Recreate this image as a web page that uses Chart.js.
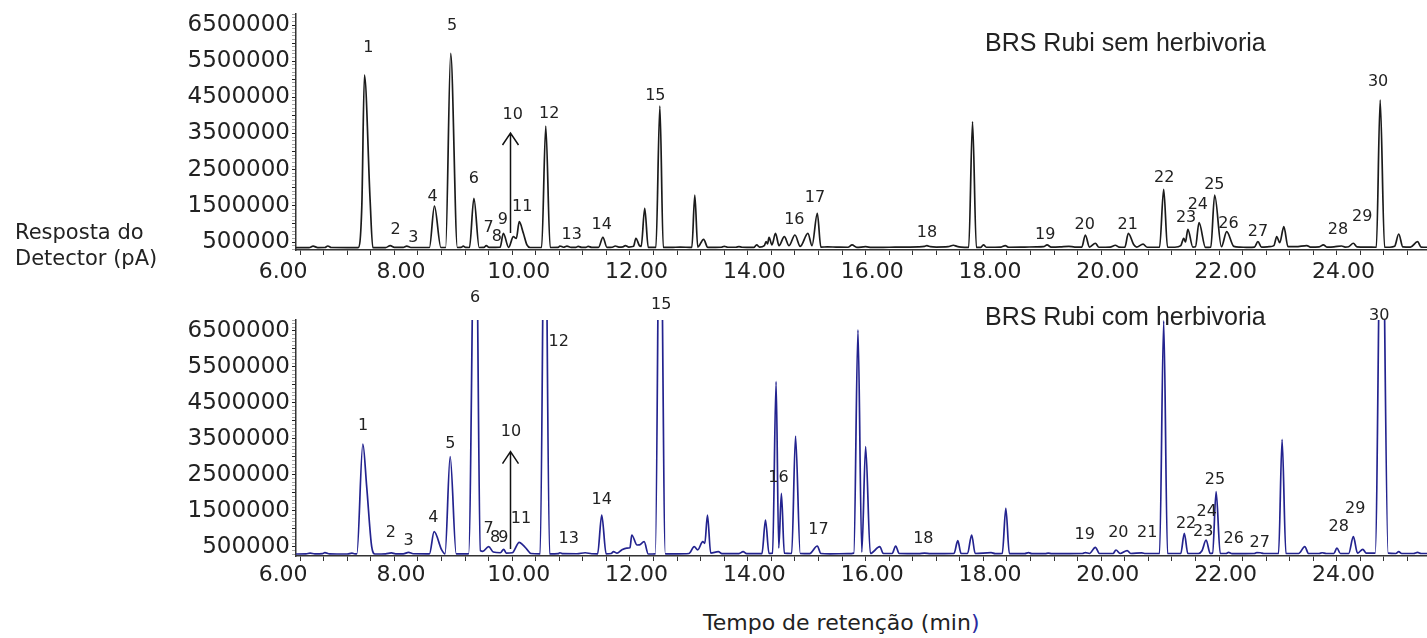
<!DOCTYPE html>
<html>
<head>
<meta charset="utf-8">
<script src="https://cdn.jsdelivr.net/npm/chart.js@4.4.1/dist/chart.umd.min.js"></script>
<style>
  body { margin: 0; background: #fff; width: 1427px; height: 638px; position: relative; overflow: hidden; font-family: "DejaVu Sans", sans-serif; color: #222; }
  canvas { position: absolute; left: 0; }
  #topChart { top: 0; }
  #botChart { top: 285px; }
  .lbl { position: absolute; white-space: nowrap; }
  .ttl { font-family: "Liberation Sans", Arial, sans-serif; font-size: 25px; line-height: 29px; }
</style>
</head>
<body>
<canvas id="topChart" width="1427" height="290"></canvas>
<canvas id="botChart" width="1427" height="315"></canvas>
<div class="lbl" style="left:15px; top:219px; font-size:21px; line-height:26px;">Resposta do<br>Detector (pA)</div>
<div class="lbl" style="left:703px; top:610px; font-size:22px;">Tempo de retenção (min<span style="color:#2a2aa0">)</span></div>
<div class="lbl ttl" style="left:985px; top:28px;">BRS Rubi sem herbivoria</div>
<div class="lbl ttl" style="left:985px; top:302px;">BRS Rubi com herbivoria</div>
<script>
// Chromatogram traces: [retention time (min), detector response (pA)]
const semHerbivoria = [
  [5.93, 345000], [6.15, 345000], [6.22, 385000], [6.30, 345000], [6.42, 348000], [6.47, 390000], [6.53, 348000], [6.80, 345000],
  [6.985, 345000], [7.047, 1476000], [7.092, 5118000], [7.188, 1661000], [7.234, 345000],
  [7.45, 345000], [7.53, 400000], [7.60, 350000], [7.75, 350000], [7.81, 385000], [7.88, 348000],
  [8.195, 348000], [8.28, 1495000], [8.39, 348000],
  [8.47, 348000], [8.556, 5717000], [8.67, 348000],
  [8.73, 350000], [8.77, 385000], [8.81, 350000],
  [8.875, 348000], [8.95, 1708000], [9.04, 348000],
  [9.12, 350000], [9.16, 400000], [9.21, 350000],
  [9.395, 355000], [9.45, 740000], [9.54, 350000], [9.62, 647000], [9.67, 600000], [9.72, 1061000], [9.79, 740000], [9.85, 420000], [9.905, 348000],
  [10.10, 348000], [10.17, 3707000], [10.245, 348000],
  [10.38, 350000], [10.41, 390000], [10.47, 355000], [10.53, 385000], [10.60, 350000],
  [10.68, 350000], [10.72, 380000], [10.78, 350000], [10.85, 352000], [10.89, 380000], [10.95, 350000],
  [11.065, 350000], [11.14, 630000], [11.21, 350000],
  [11.30, 355000], [11.35, 390000], [11.41, 360000], [11.48, 365000], [11.52, 400000], [11.58, 360000],
  [11.66, 380000], [11.70, 602000], [11.76, 400000], [11.79, 380000], [11.85, 1432000], [11.91, 350000],
  [12.04, 350000], [12.107, 4260000], [12.165, 350000],
  [12.30, 350000], [12.45, 360000],
  [12.65, 350000], [12.70, 1800000], [12.75, 360000], [12.85, 575000], [12.92, 350000],
  [13.15, 355000], [13.20, 380000], [13.26, 355000], [13.40, 355000], [13.45, 375000], [13.50, 355000],
  [13.70, 350000], [13.75, 420000], [13.80, 360000], [13.88, 400000], [13.91, 510000], [13.935, 450000], [13.96, 630000],
  [14.01, 420000], [14.07, 740000], [14.13, 400000], [14.22, 647000], [14.30, 400000], [14.40, 694000], [14.49, 380000],
  [14.62, 740000], [14.69, 400000], [14.78, 1293000], [14.84, 360000],
  [14.95, 365000], [15.10, 360000], [15.30, 355000], [15.37, 420000], [15.45, 350000], [15.60, 370000], [15.70, 350000],
  [16.00, 355000], [16.30, 360000], [16.50, 365000], [16.60, 380000], [16.64, 400000], [16.70, 370000], [16.80, 360000],
  [17.00, 370000], [17.09, 410000], [17.15, 380000], [17.22, 360000],
  [17.35, 350000], [17.415, 3826000], [17.48, 350000],
  [17.55, 350000], [17.60, 420000], [17.65, 355000], [17.90, 360000], [17.97, 400000], [18.03, 355000], [18.30, 360000],
  [18.50, 365000], [18.62, 370000], [18.68, 420000], [18.75, 360000], [18.90, 365000], [19.05, 380000], [19.15, 360000],
  [19.27, 360000], [19.33, 694000], [19.40, 360000], [19.50, 465000], [19.56, 355000], [19.75, 360000], [19.84, 410000], [19.90, 360000],
  [20.00, 355000], [20.06, 740000], [20.15, 430000], [20.20, 360000], [20.31, 440000], [20.38, 355000],
  [20.59, 355000], [20.66, 1957000], [20.725, 355000],
  [20.85, 355000], [20.95, 400000], [21.00, 602000], [21.03, 500000], [21.07, 851000], [21.155, 360000],
  [21.20, 370000], [21.26, 1034000], [21.37, 350000],
  [21.46, 360000], [21.525, 1800000], [21.64, 370000], [21.73, 785000], [21.85, 380000],
  [21.95, 360000], [22.10, 350000], [22.20, 360000], [22.26, 510000], [22.32, 360000], [22.45, 370000], [22.53, 400000],
  [22.58, 647000], [22.63, 480000], [22.70, 923000], [22.77, 370000],
  [22.90, 370000], [23.09, 400000], [23.15, 360000], [23.30, 365000], [23.37, 420000], [23.43, 360000], [23.55, 365000],
  [23.68, 390000], [23.74, 360000], [23.80, 370000], [23.88, 465000], [23.94, 365000], [24.10, 360000],
  [24.27, 355000], [24.335, 4426000], [24.41, 355000],
  [24.50, 355000], [24.58, 380000], [24.65, 721000], [24.72, 365000], [24.85, 360000], [24.97, 510000], [25.03, 360000], [25.13, 355000]
];

const comHerbivoria = [
  [5.93, 305000], [6.10, 308000], [6.17, 330000], [6.25, 310000], [6.38, 315000], [6.42, 345000], [6.50, 310000],
  [6.80, 305000], [6.88, 330000], [6.93, 310000],
  [6.963, 310000], [7.065, 3361000], [7.13, 2175000], [7.215, 508000], [7.27, 305000],
  [7.45, 310000], [7.55, 335000], [7.62, 310000], [7.75, 310000], [7.84, 350000], [7.92, 312000], [8.15, 310000],
  [8.195, 310000], [8.275, 925000], [8.40, 430000], [8.46, 310000],
  [8.547, 3008000], [8.65, 310000],
  [8.86, 310000], [8.975, 12000000], [9.06, 400000],
  [9.10, 380000], [9.20, 509000], [9.28, 360000], [9.40, 340000], [9.455, 436000], [9.50, 330000], [9.60, 340000],
  [9.72, 630000], [9.78, 560000], [9.85, 436000], [9.92, 320000],
  [10.075, 310000], [10.155, 12000000], [10.235, 310000],
  [10.38, 315000], [10.41, 340000], [10.46, 315000], [10.70, 312000], [10.84, 340000], [10.95, 312000],
  [11.05, 310000], [11.12, 1389000], [11.195, 310000],
  [11.28, 320000], [11.32, 370000], [11.38, 330000], [11.46, 420000], [11.545, 470000], [11.60, 480000], [11.63, 833000],
  [11.72, 555000], [11.76, 560000], [11.84, 647000], [11.91, 305000],
  [12.03, 310000], [12.11, 12000000], [12.20, 310000],
  [12.40, 310000], [12.60, 320000], [12.69, 509000], [12.75, 420000], [12.835, 647000], [12.87, 600000], [12.915, 1389000],
  [12.97, 330000], [13.10, 370000], [13.16, 315000], [13.45, 315000], [13.52, 370000], [13.58, 315000],
  [13.84, 315000], [13.90, 1250000], [13.96, 320000],
  [14.02, 330000], [14.08, 5092000], [14.125, 472000], [14.17, 1992000], [14.22, 330000],
  [14.345, 320000], [14.41, 3583000], [14.49, 320000],
  [14.65, 315000], [14.78, 528000], [14.84, 320000], [15.00, 310000], [15.30, 315000],
  [15.40, 330000], [15.47, 6528000], [15.535, 360000], [15.60, 3286000], [15.68, 320000],
  [15.84, 509000], [15.90, 320000], [16.05, 320000], [16.11, 528000], [16.17, 320000], [16.50, 315000], [16.60, 330000], [16.70, 315000],
  [17.10, 320000], [17.165, 675000], [17.22, 320000], [17.33, 320000], [17.40, 833000], [17.46, 320000],
  [17.73, 345000], [17.80, 315000], [17.92, 320000], [17.98, 1575000], [18.04, 315000],
  [18.30, 315000], [18.365, 345000], [18.42, 315000], [18.65, 315000], [18.70, 330000], [18.76, 315000],
  [19.28, 320000], [19.33, 345000], [19.40, 320000], [19.50, 491000], [19.57, 320000], [19.80, 320000], [19.85, 417000],
  [19.92, 320000], [20.04, 400000], [20.10, 320000], [20.29, 335000], [20.35, 320000],
  [20.59, 320000], [20.66, 6780000], [20.725, 320000],
  [20.95, 320000], [21.01, 880000], [21.07, 320000], [21.25, 320000], [21.31, 397000], [21.38, 694000], [21.45, 320000],
  [21.49, 330000], [21.55, 2036000], [21.62, 320000],
  [21.72, 320000], [21.76, 350000], [21.82, 315000], [22.20, 320000], [22.24, 345000], [22.30, 340000], [22.36, 320000],
  [22.61, 320000], [22.67, 3492000], [22.735, 320000],
  [22.95, 320000], [23.055, 509000], [23.12, 320000], [23.30, 320000], [23.35, 340000], [23.42, 320000], [23.55, 320000],
  [23.60, 472000], [23.66, 320000], [23.80, 320000], [23.88, 786000], [23.95, 330000], [24.04, 436000], [24.10, 330000],
  [24.25, 330000], [24.36, 12000000], [24.47, 330000],
  [24.60, 320000], [24.65, 370000], [24.70, 320000], [24.90, 320000], [24.97, 350000], [25.03, 320000], [25.13, 320000]
];

// Peak numbering and where each number sits (time, response)
const peakNums = ['1','2','3','4','5','6','7','8','9','10','11','12','13','14','15','16','17','18','19','20',
                  '21','22','23','24','25','26','27','28','29','30'];
const semLabelTime = [7.16, 7.62, 7.92, 8.25, 8.58, 8.95, 9.20, 9.34, 9.44, 9.61, 9.77, 10.23, 10.61, 11.12, 12.03,
                      14.39, 14.74, 16.64, 18.65, 19.32, 20.05, 20.67, 21.04, 21.24, 21.52, 21.76, 22.26, 23.62, 24.03, 24.30];
const semLabelResp = [5856000, 832000, 619000, 1753000, 6472000, 2234000, 879000, 647000, 1108000, 4012000, 1476000, 4031000,
                      694000, 970000, 4537000, 1108000, 1708000, 741000, 694000, 970000, 970000, 2261000, 1155000, 1523000,
                      2076000, 998000, 785000, 832000, 1200000, 4932000];
const comLabelTime = [7.07, 7.54, 7.84, 8.26, 8.55, 8.97, 9.20, 9.31, 9.45, 9.58, 9.75, 10.39, 10.56, 11.12, 12.13,
                      14.12, 14.80, 16.58, 19.32, 19.89, 20.38, 21.04, 21.33, 21.39, 21.53, 21.85, 22.29, 23.63, 23.91, 24.32];
const comLabelResp = [3861000, 881000, 675000, 1297000, 3361000, 7417000, 992000, 742000, 742000, 3703000, 1278000, 6203000,
                      714000, 1806000, 7222000, 2408000, 972000, 714000, 833000, 881000, 881000, 1139000, 908000, 1481000,
                      2361000, 714000, 619000, 1064000, 1547000, 6917000];
// arrow under peak 10: [time, from response, to response]
const semArrow = [9.565, 749000, 3514000];
const comArrow = [9.565, 444000, 3147000];

const peakLabels = {
  id: 'peakLabels',
  afterDatasetsDraw(chart, args, opts) {
    const ctx = chart.ctx;
    const x = chart.scales.x, y = chart.scales.y;
    ctx.save();
    ctx.font = '16px "DejaVu Sans"';
    ctx.fillStyle = '#222';
    ctx.textAlign = 'center';
    ctx.textBaseline = 'middle';
    opts.nums.forEach((n, i) => {
      ctx.fillText(n, x.getPixelForValue(opts.time[i]), y.getPixelForValue(opts.resp[i]));
    });
    const ax = Math.round(x.getPixelForValue(opts.arrow[0])) + 0.5;
    const y0 = y.getPixelForValue(opts.arrow[1]);
    const y1 = y.getPixelForValue(opts.arrow[2]);
    ctx.strokeStyle = '#111';
    ctx.lineWidth = 1.5;
    ctx.beginPath();
    ctx.moveTo(ax, y0);
    ctx.lineTo(ax, y1);
    ctx.moveTo(ax - 8, y1 + 12);
    ctx.lineTo(ax, y1);
    ctx.lineTo(ax + 8, y1 + 12);
    ctx.stroke();
    ctx.restore();
  }
};

function makeChart(id, trace, color, yMin, padTop, xAxisHeight, xPad, labelTime, labelResp, arrow) {
  return new Chart(document.getElementById(id), {
    type: 'line',
    data: {
      datasets: [{
        data: trace.map(p => ({ x: p[0], y: p[1] })),
        borderColor: color,
        borderWidth: 1.7,
        pointRadius: 0,
        cubicInterpolationMode: 'monotone',
        fill: false
      }]
    },
    options: {
      responsive: false,
      animation: false,
      devicePixelRatio: 1,
      layout: { padding: { top: padTop, left: 0, right: 0, bottom: 0 } },
      scales: {
        x: {
          type: 'linear',
          min: 5.93,
          max: 25.13,
          grid: { drawOnChartArea: false, tickLength: 5, color: '#333' },
          border: { display: true, color: '#333', width: 1.5 },
          ticks: {
            autoSkip: false,
            maxRotation: 0,
            minRotation: 0,
            padding: xPad,
            labelOffset: -17,
            color: '#222',
            font: { family: 'DejaVu Sans', size: 22 },
            callback: v => (Math.round(v * 10) % 20 === 0 ? v.toFixed(2) : '')
          },
          // a tick every 0.4 min, labelled every 2 min
          afterBuildTicks: s => {
            const t = [];
            for (let i = 15; i <= 62; i++) t.push({ value: Math.round(i * 4) / 10 });
            s.ticks = t;
          },
          afterFit: s => { s.height = xAxisHeight; s.paddingLeft = 0; s.paddingRight = 0; }
        },
        y: {
          type: 'linear',
          min: yMin,
          max: 6805000,
          grid: {
            drawOnChartArea: false,
            tickLength: 4,
            tickColor: c => (Math.round(c.tick.value / 100000) % 5 === 0 ? '#222' : 'rgba(0,0,0,0.35)')
          },
          border: { display: true, color: '#333', width: 1.5 },
          ticks: {
            autoSkip: false,
            padding: 2,
            color: '#222',
            font: { family: 'DejaVu Sans', size: 23 },
            callback: v => (Math.round(v / 100000) % 10 === 5 ? String(Math.round(v)) : '')
          },
          // minor tick every 100000, labels at 500000, 1500000, ...
          afterBuildTicks: s => {
            const t = [];
            for (let i = 3; i <= 68; i++) t.push({ value: i * 100000 });
            s.ticks = t;
          },
          afterFit: s => { s.width = 296; s.paddingTop = 0; s.paddingBottom = 0; }
        }
      },
      plugins: {
        legend: { display: false },
        tooltip: { enabled: false },
        peakLabels: { nums: peakNums, time: labelTime, resp: labelResp, arrow: arrow }
      }
    },
    plugins: [peakLabels]
  });
}

makeChart('topChart', semHerbivoria, '#1b1b1b', 279000, 14, 40, 4, semLabelTime, semLabelResp, semArrow);
makeChart('botChart', comHerbivoria, '#23238f', 250000, 35, 44, 1, comLabelTime, comLabelResp, comArrow);
</script>
</body>
</html>
